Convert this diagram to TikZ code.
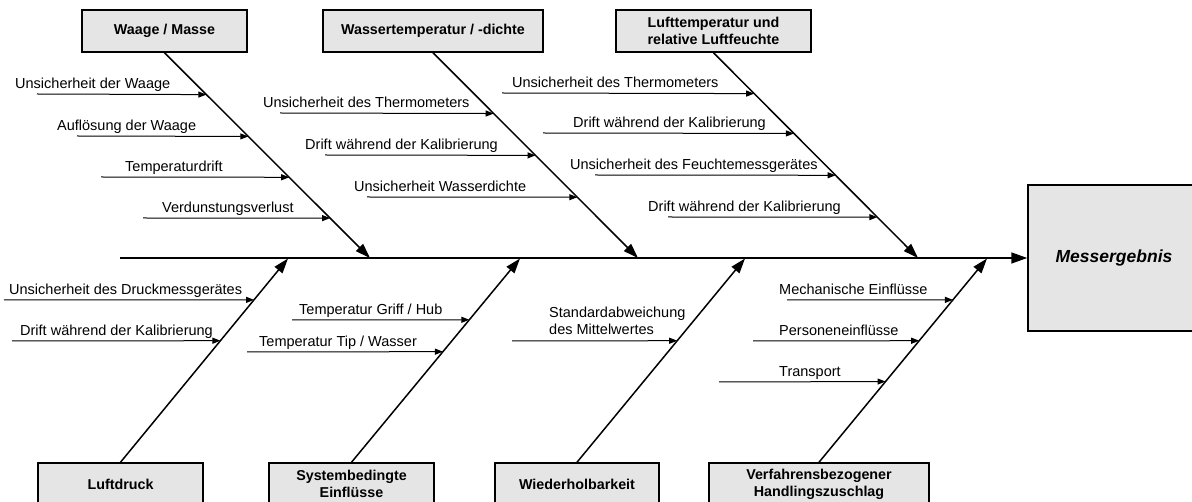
\documentclass[tikz,border=0pt]{standalone}
\usepackage{fontspec}
\setmainfont{Liberation Sans}
\usetikzlibrary{arrows.meta,calc}
\definecolor{boxfill}{gray}{0.90}
\tikzset{
  cause/.style={draw=black, line width=1.5pt, fill=boxfill, font=\bfseries\fontsize{14.3}{17}\selectfont, align=center, inner sep=0pt},
  lab/.style={font=\fontsize{14.5}{17}\selectfont, inner sep=0pt, anchor=base west},
  bone/.style={line width=1.5pt, -{Triangle[length=15pt,width=10pt]}},
  sub/.style={line width=1pt, -{Triangle[length=8pt,width=6pt]}},
  spine/.style={line width=1.6pt, -{Triangle[length=16pt,width=11pt]}}
}
\begin{document}
\begin{tikzpicture}[x=1pt,y=-1pt]
\useasboundingbox (0,0) rectangle (1192,502);
% result box
\node[cause, font=\bfseries\itshape\fontsize{17.5}{20}\selectfont, minimum width=172pt, minimum height=146pt] (res) at (1114,258) {Messergebnis};
% cause boxes
\node[cause, minimum width=165pt, minimum height=42pt] (wm) at (164.5,31) {Waage / Masse};
\node[cause, minimum width=220pt, minimum height=42pt] (wt) at (433,31) {Wassertemperatur / -dichte};
\node[cause, minimum width=195pt, minimum height=42pt] (lt) at (713.5,31) {Lufttemperatur und\\relative Luftfeuchte};
\node[cause, minimum width=165pt, minimum height=42pt] (ld) at (120.5,484) {Luftdruck};
\node[cause, minimum width=165pt, minimum height=42pt] (sy) at (351.5,484) {Systembedingte\\Einflüsse};
\node[cause, minimum width=164pt, minimum height=42pt] (wh) at (577,484) {Wiederholbarkeit};
\node[cause, minimum width=220pt, minimum height=42pt] (vf) at (819,484) {Verfahrensbezogener\\Handlingszuschlag};
% spine
\coordinate (s0) at (120,258);
\draw[spine] (s0) -- (res.west);
% bone tips
\coordinate (twm) at (370,258);
\coordinate (twt) at (638,258);
\coordinate (tlt) at (918,258);
\coordinate (tld) at (288,258.5);
\coordinate (tsy) at (520,258.5);
\coordinate (twh) at (745,258.5);
\coordinate (tvf) at (987,258.5);
\draw[bone] (wm.south) -- (twm);
\draw[bone] (wt.south) -- (twt);
\draw[bone] (lt.south) -- (tlt);
\draw[bone] (ld.north) -- (tld);
\draw[bone] (sy.north) -- (tsy);
\draw[bone] (wh.north) -- (twh);
\draw[bone] (vf.north) -- (tvf);
% Waage / Masse
\node[lab] (a1) at (15,88.5) {Unsicherheit der Waage};
\node[lab] (a2) at (57,130.5) {Auflösung der Waage};
\node[lab] (a3) at (125,171.5) {Temperaturdrift};
\node[lab] (a4) at (162,212.5) {Verdunstungsverlust};
\coordinate (a1s) at (37,94);
\coordinate (a2s) at (77,136);
\coordinate (a3s) at (101,177);
\coordinate (a4s) at (143,218);
\draw[sub] (a1s) -- ($(wm.south)!{42/206}!(twm)$);
\draw[sub] (a2s) -- ($(wm.south)!{84/206}!(twm)$);
\draw[sub] (a3s) -- ($(wm.south)!{125/206}!(twm)$);
\draw[sub] (a4s) -- ($(wm.south)!{166/206}!(twm)$);
% Wassertemperatur
\node[lab] (b1) at (263,107.5) {Unsicherheit des Thermometers};
\node[lab] (b2) at (305,149.5) {Drift während der Kalibrierung};
\node[lab] (b3) at (354,191.5) {Unsicherheit Wasserdichte};
\coordinate (b1s) at (280,113);
\coordinate (b2s) at (325,155);
\coordinate (b3s) at (367,197);
\draw[sub] (b1s) -- ($(wt.south)!{61/206}!(twt)$);
\draw[sub] (b2s) -- ($(wt.south)!{103/206}!(twt)$);
\draw[sub] (b3s) -- ($(wt.south)!{145/206}!(twt)$);
% Lufttemperatur
\node[lab] (c1) at (512,87.5) {Unsicherheit des Thermometers};
\node[lab] (c2) at (573,127.5) {Drift während der Kalibrierung};
\node[lab] (c3) at (570,169.5) {Unsicherheit des Feuchtemessgerätes};
\node[lab] (c4) at (648,211.5) {Drift während der Kalibrierung};
\coordinate (c1s) at (502,93);
\coordinate (c2s) at (543,133);
\coordinate (c3s) at (595,175);
\coordinate (c4s) at (668,217);
\draw[sub] (c1s) -- ($(lt.south)!{41/206}!(tlt)$);
\draw[sub] (c2s) -- ($(lt.south)!{81/206}!(tlt)$);
\draw[sub] (c3s) -- ($(lt.south)!{123/206}!(tlt)$);
\draw[sub] (c4s) -- ($(lt.south)!{165/206}!(tlt)$);
% Luftdruck
\node[lab] (d1) at (9,294.5) {Unsicherheit des Druckmessgerätes};
\node[lab] (d2) at (20,335.5) {Drift während der Kalibrierung};
\coordinate (d1s) at (4,300);
\coordinate (d2s) at (12,341);
\draw[sub] (d1s) -- ($(ld.north)!{163/204.5}!(tld)$);
\draw[sub] (d2s) -- ($(ld.north)!{122/204.5}!(tld)$);
% Systembedingte
\node[lab] (e1) at (299,314.5) {Temperatur Griff / Hub};
\node[lab] (e2) at (259,346.5) {Temperatur Tip / Wasser};
\coordinate (e1s) at (292,320);
\coordinate (e2s) at (247,352);
\draw[sub] (e1s) -- ($(sy.north)!{143/204.5}!(tsy)$);
\draw[sub] (e2s) -- ($(sy.north)!{111/204.5}!(tsy)$);
% Wiederholbarkeit
\node[lab] (f1) at (549,318) {Standardabweichung};
\node[lab] (f2) at (549,335) {des Mittelwertes};
\coordinate (f1s) at (512,341);
\draw[sub] (f1s) -- ($(wh.north)!{122/204.5}!(twh)$);
% Verfahrensbezogener
\node[lab] (g1) at (779,294.5) {Mechanische Einflüsse};
\node[lab] (g2) at (779,335.5) {Personeneinflüsse};
\node[lab] (g3) at (779,376.5) {Transport};
\coordinate (g1s) at (787,300);
\coordinate (g2s) at (753,341);
\coordinate (g3s) at (719,382);
\draw[sub] (g1s) -- ($(vf.north)!{163/204.5}!(tvf)$);
\draw[sub] (g2s) -- ($(vf.north)!{122/204.5}!(tvf)$);
\draw[sub] (g3s) -- ($(vf.north)!{81/204.5}!(tvf)$);
\end{tikzpicture}
\end{document}
